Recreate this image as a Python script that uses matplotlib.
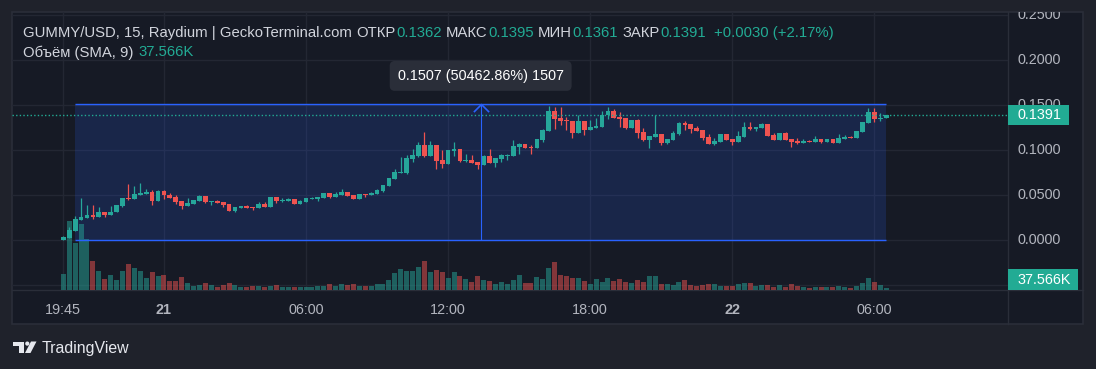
import matplotlib
matplotlib.use("Agg")
import matplotlib.pyplot as plt
import matplotlib.transforms as mtrans
from matplotlib.patches import Rectangle, Polygon, Circle
import numpy as np

# ---------------- data ----------------
opens = [0.0004, 0.0026, 0.0107, 0.0230, 0.0252, 0.0280, 0.0260, 0.0310, 0.0280, 0.0310,
         0.0380, 0.0470, 0.0460, 0.0504, 0.0510, 0.0537, 0.0440, 0.0548, 0.0504, 0.0480,
         0.0437, 0.0380, 0.0404, 0.0437, 0.0490, 0.0430, 0.0437, 0.0426, 0.0400, 0.0326,
         0.0360, 0.0380, 0.0370, 0.0360, 0.0404, 0.0370, 0.0480, 0.0437, 0.0437, 0.0460,
         0.0400, 0.0426, 0.0460, 0.0460, 0.0470, 0.0526, 0.0481, 0.0504, 0.0537, 0.0500,
         0.0460, 0.0515, 0.0504, 0.0515, 0.0548, 0.0604, 0.0680, 0.0748, 0.0748, 0.0904,
         0.0937, 0.1060, 0.0937, 0.1060, 0.0890, 0.0848, 0.0990, 0.1015, 0.0880, 0.0890,
         0.0870, 0.0837, 0.0937, 0.0860, 0.0900, 0.0937, 0.0937, 0.1037, 0.1070, 0.1037,
         0.1026, 0.1115, 0.1215, 0.1437, 0.1360, 0.1337, 0.1326, 0.1190, 0.1326, 0.1226,
         0.1248, 0.1260, 0.1390, 0.1437, 0.1370, 0.1360, 0.1248, 0.1337, 0.1200, 0.1115,
         0.1148, 0.1180, 0.1080, 0.1115, 0.1180, 0.1304, 0.1290, 0.1248, 0.1226, 0.1148,
         0.1070, 0.1093, 0.1180, 0.1126, 0.1093, 0.1148, 0.1260, 0.1237, 0.1248, 0.1290,
         0.1170, 0.1115, 0.1190, 0.1126, 0.1100, 0.1080, 0.1100, 0.1093, 0.1126, 0.1093,
         0.1126, 0.1080, 0.1126, 0.1148, 0.1137, 0.1204, 0.1304, 0.1426, 0.1348, 0.1362]
highs = [0.0048, 0.0148, 0.0270, 0.0470, 0.0390, 0.0390, 0.0370, 0.0310, 0.0380, 0.0390,
         0.0470, 0.0626, 0.0600, 0.0637, 0.0570, 0.0560, 0.0555, 0.0560, 0.0522, 0.0500,
         0.0437, 0.0470, 0.0448, 0.0500, 0.0490, 0.0437, 0.0452, 0.0426, 0.0400, 0.0370,
         0.0380, 0.0392, 0.0370, 0.0426, 0.0426, 0.0480, 0.0480, 0.0470, 0.0470, 0.0460,
         0.0448, 0.0470, 0.0481, 0.0481, 0.0526, 0.0526, 0.0537, 0.0570, 0.0537, 0.0500,
         0.0515, 0.0515, 0.0537, 0.0570, 0.0615, 0.0690, 0.0790, 0.0926, 0.0948, 0.1015,
         0.1090, 0.1200, 0.1100, 0.1060, 0.1000, 0.1005, 0.1090, 0.1015, 0.0960, 0.0948,
         0.0870, 0.0948, 0.1015, 0.0915, 0.0960, 0.0960, 0.1115, 0.1081, 0.1070, 0.1060,
         0.1126, 0.1237, 0.1490, 0.1480, 0.1480, 0.1370, 0.1326, 0.1390, 0.1326, 0.1337,
         0.1360, 0.1437, 0.1480, 0.1460, 0.1426, 0.1360, 0.1337, 0.1348, 0.1248, 0.1160,
         0.1393, 0.1180, 0.1126, 0.1215, 0.1315, 0.1326, 0.1290, 0.1270, 0.1226, 0.1180,
         0.1137, 0.1180, 0.1180, 0.1126, 0.1215, 0.1315, 0.1315, 0.1260, 0.1300, 0.1290,
         0.1190, 0.1190, 0.1200, 0.1126, 0.1137, 0.1126, 0.1110, 0.1160, 0.1126, 0.1126,
         0.1126, 0.1180, 0.1170, 0.1159, 0.1215, 0.1315, 0.1470, 0.1470, 0.1415, 0.1395]
lows = [0.0000, 0.0026, 0.0107, 0.0230, 0.0252, 0.0240, 0.0260, 0.0260, 0.0280, 0.0310,
        0.0374, 0.0450, 0.0460, 0.0504, 0.0510, 0.0396, 0.0440, 0.0460, 0.0474, 0.0400,
        0.0348, 0.0380, 0.0404, 0.0437, 0.0415, 0.0396, 0.0415, 0.0374, 0.0326, 0.0319,
        0.0360, 0.0360, 0.0337, 0.0360, 0.0370, 0.0370, 0.0415, 0.0426, 0.0437, 0.0400,
        0.0400, 0.0426, 0.0460, 0.0437, 0.0470, 0.0470, 0.0481, 0.0504, 0.0490, 0.0460,
        0.0460, 0.0480, 0.0504, 0.0515, 0.0537, 0.0604, 0.0680, 0.0748, 0.0737, 0.0870,
        0.0926, 0.0926, 0.0937, 0.0790, 0.0800, 0.0848, 0.0937, 0.0870, 0.0870, 0.0860,
        0.0790, 0.0837, 0.0860, 0.0815, 0.0870, 0.0893, 0.0937, 0.0960, 0.1026, 0.0960,
        0.1026, 0.1090, 0.1215, 0.1237, 0.1280, 0.1226, 0.1137, 0.1190, 0.1170, 0.1226,
        0.1248, 0.1260, 0.1350, 0.1360, 0.1260, 0.1237, 0.1248, 0.1137, 0.1100, 0.1026,
        0.1148, 0.1060, 0.1070, 0.1115, 0.1170, 0.1226, 0.1190, 0.1215, 0.1115, 0.1070,
        0.1060, 0.1093, 0.1115, 0.1060, 0.1093, 0.1148, 0.1226, 0.1215, 0.1248, 0.1160,
        0.1115, 0.1115, 0.1115, 0.1037, 0.1070, 0.1080, 0.1093, 0.1093, 0.1080, 0.1093,
        0.1080, 0.1080, 0.1126, 0.1137, 0.1137, 0.1204, 0.1304, 0.1315, 0.1326, 0.1361]
closes = [0.0040, 0.0115, 0.0237, 0.0260, 0.0280, 0.0260, 0.0310, 0.0285, 0.0315, 0.0390,
          0.0470, 0.0460, 0.0515, 0.0526, 0.0537, 0.0440, 0.0548, 0.0504, 0.0474, 0.0430,
          0.0380, 0.0415, 0.0448, 0.0490, 0.0426, 0.0437, 0.0415, 0.0390, 0.0326, 0.0370,
          0.0380, 0.0360, 0.0363, 0.0400, 0.0370, 0.0480, 0.0437, 0.0445, 0.0460, 0.0400,
          0.0437, 0.0470, 0.0470, 0.0481, 0.0526, 0.0481, 0.0515, 0.0537, 0.0490, 0.0460,
          0.0515, 0.0504, 0.0526, 0.0560, 0.0615, 0.0690, 0.0760, 0.0760, 0.0915, 0.0948,
          0.1060, 0.0937, 0.1060, 0.0880, 0.0848, 0.1000, 0.1015, 0.0880, 0.0890, 0.0860,
          0.0837, 0.0937, 0.0860, 0.0915, 0.0948, 0.0948, 0.1050, 0.1070, 0.1026, 0.1026,
          0.1126, 0.1226, 0.1437, 0.1348, 0.1326, 0.1326, 0.1190, 0.1326, 0.1226, 0.1260,
          0.1270, 0.1390, 0.1437, 0.1360, 0.1350, 0.1248, 0.1337, 0.1190, 0.1115, 0.1160,
          0.1180, 0.1080, 0.1126, 0.1190, 0.1304, 0.1280, 0.1237, 0.1215, 0.1137, 0.1070,
          0.1100, 0.1180, 0.1115, 0.1093, 0.1160, 0.1260, 0.1237, 0.1260, 0.1290, 0.1160,
          0.1115, 0.1190, 0.1115, 0.1093, 0.1080, 0.1100, 0.1093, 0.1126, 0.1093, 0.1126,
          0.1080, 0.1137, 0.1148, 0.1137, 0.1215, 0.1315, 0.1426, 0.1348, 0.1362, 0.1391]
volumes_k = [115, 497, 338, 475, 367, 209, 137, 79, 108, 72,
             137, 187, 158, 137, 86, 130, 101, 108, 65, 65,
             94, 50, 29, 36, 50, 36, 22, 36, 50, 36,
             22, 22, 29, 29, 22, 29, 36, 22, 22, 22,
             22, 22, 22, 29, 29, 43, 29, 43, 36, 43,
             29, 29, 29, 43, 43, 72, 122, 151, 137, 137,
             166, 209, 130, 144, 130, 86, 130, 101, 79, 58,
             101, 72, 65, 43, 58, 43, 72, 108, 50, 50,
             94, 79, 158, 202, 108, 101, 86, 86, 65, 43,
             79, 58, 86, 65, 79, 58, 50, 72, 58, 101,
             101, 43, 43, 36, 58, 72, 36, 29, 36, 43,
             43, 29, 29, 29, 43, 50, 50, 29, 36, 36,
             22, 36, 22, 43, 29, 22, 14, 22, 22, 22,
             22, 29, 22, 14, 29, 50, 86, 58, 36, 14]

time_tick_idx = [0, 17, 41, 65, 89, 113, 137]
time_tick_labels = ["19:45", "21", "06:00", "12:00", "18:00", "22", "06:00"]
bold_tick_labels = ["21", "22"]
price_ticks = [0.0, 0.05, 0.10, 0.15, 0.20, 0.25]
grid_prices = [-0.05, 0.0, 0.05, 0.10, 0.15, 0.20, 0.25]

range_start_idx, range_end_idx = 2, 139
range_low, range_high = 0.0003, 0.1510
range_label = "0.1507 (50462.86%) 1507"
last_price = 0.1391
last_price_label = "0.1391"
volume_sma_label = "37.566K"

header_title = "GUMMY/USD, 15, Raydium | GeckoTerminal.com"
header_names = ["ОТКР", "МАКС", "МИН", "ЗАКР"]
header_values = ["0.1362", "0.1395", "0.1361", "0.1391"]
header_values_x = [396.4, 488, 572.6, 660.7]
header_change = "+0.0030 (+2.17%)"
header_line2 = [("Объём (SMA, 9)", "g"), ("37.566K", "t")]
header_line2_x = [22.8, 138.6]

# ---------------- style ----------------
OUTER = "#1f222b"
PANE = "#161a25"
BORDER = "#2a2e39"
GRID = "#232733"
UP = "#26a69a"
DN = "#ef5350"
TEAL = "#22ab94"
BLUE = "#2962ff"
TXT = "#d1d4dc"
AXT = "#b2b5be"
FONT = "Liberation Sans"
plt.rcParams["font.family"] = [FONT, "DejaVu Sans"]

W, H = 1096, 369
fig = plt.figure(figsize=(W / 100, H / 100), dpi=100)
fig.patch.set_facecolor(OUTER)


def px_rect(x0, y0, x1, y1):
    return [x0 / W, 1 - y1 / H, (x1 - x0) / W, (y1 - y0) / H]


# background / frame (pixel coords)
ax_bg = fig.add_axes([0, 0, 1, 1], zorder=0)
ax_bg.set_xlim(0, W)
ax_bg.set_ylim(H, 0)
ax_bg.set_axis_off()
ax_bg.add_patch(Rectangle((12, 12), 1071, 312, fc=PANE, ec=BORDER, lw=1.2))
ax_bg.plot([1008, 1008], [12, 324], color=BORDER, lw=1)
ax_bg.plot([12, 1083], [290, 290], color=BORDER, lw=1)

# panes
pane = px_rect(12, 12, 1008, 290)
ax_vol = fig.add_axes(pane, zorder=1)
ax_price = fig.add_axes(pane, zorder=2, sharex=ax_vol)
for a in (ax_vol, ax_price):
    a.patch.set_visible(False)
    for s in a.spines.values():
        s.set_visible(False)

xl = ((12 - 63.3) / 5.92, (1008 - 63.3) / 5.92)
ax_price.set_xlim(*xl)
ax_price.set_ylim((240.3 - 290) / 900, (240.3 - 12) / 900)
ax_vol.set_ylim(0, 278 * 7.19)
ax_vol.set_yticks([])
ax_price.set_yticks([])

# grid (under volume)
blend = mtrans.blended_transform_factory(ax_vol.transAxes, ax_price.transData)
for gp in grid_prices:
    ax_vol.plot([0, 1], [gp, gp], transform=blend, color=GRID, lw=1, zorder=0)
for ti in time_tick_idx:
    ax_vol.axvline(ti, color=GRID, lw=1, zorder=0)

# price range fill
ax_vol.add_patch(Rectangle((range_start_idx, range_low), range_end_idx - range_start_idx,
                           range_high - range_low, transform=ax_price.transData,
                           fc=BLUE, alpha=0.17, ec="none", zorder=1))

o = np.array(opens); h = np.array(highs); l = np.array(lows); c = np.array(closes)
v = np.array(volumes_k)
idx = np.arange(len(o))
up = c >= o
cols = np.where(up, UP, DN)
vcols = [(0.149, 0.651, 0.604, 0.5) if u else (0.937, 0.325, 0.314, 0.5) for u in up]

ax_vol.bar(idx, v, width=0.85, color=vcols, lw=0, zorder=2)

# candles
ax_price.vlines(idx, l, h, colors=cols, lw=0.9, zorder=3)
ax_price.bar(idx, np.maximum(np.abs(c - o), 0.0012), bottom=np.minimum(o, c), width=0.8,
             color=cols, lw=0, zorder=4)

# range tool lines
ax_price.hlines([range_low, range_high], range_start_idx, range_end_idx, color=BLUE, lw=1.0, zorder=5)
mid = (range_start_idx + range_end_idx) / 2
ax_price.vlines(mid, range_low, range_high, color=BLUE, lw=0.8, zorder=5)
ax_price.plot([mid], [range_high], marker=[(-1, -1), (0, 0), (1, -1)], ms=11,
              mfc="none", mec=BLUE, mew=1.2, zorder=6)
ax_price.annotate(range_label, xy=(mid, range_high), xytext=(0, 28.5),
                  textcoords="offset pixels", ha="center", va="center",
                  color="white", fontsize=10.4, zorder=7,
                  bbox=dict(boxstyle="round,pad=0.55,rounding_size=0.35", fc="#2a2e39", ec="none"))

# last price dotted line
ax_price.axhline(last_price, color=TEAL, lw=1.0, ls=(0, (1, 1.6)), zorder=5)

# time axis labels
ax_price.set_xticks(time_tick_idx)
ax_price.set_xticklabels(time_tick_labels)
ax_price.tick_params(axis="x", length=0, pad=9.0, labelsize=10.4, labelcolor=AXT)
for lab in ax_price.get_xticklabels():
    if lab.get_text() in bold_tick_labels:
        lab.set_fontweight("bold")
ax_vol.tick_params(axis="x", length=0, labelbottom=False)

# price axis
ax_axis = fig.add_axes(px_rect(1008, 12, 1083, 290), zorder=3, sharey=ax_price)
ax_axis.set_axis_off()
ax_axis.set_xlim(0, 1)
tb = mtrans.blended_transform_factory(ax_axis.transAxes, ax_axis.transData)
for p in price_ticks:
    ax_axis.text(10 / 75, p, f"{p:.4f}", transform=tb, ha="left", va="center",
                 color=AXT, fontsize=10.4, clip_on=True)
ylo, yhi = ax_price.get_ylim()
bh = (yhi - ylo) * 20 / 278
ax_axis.add_patch(Rectangle((0, last_price - bh / 2), 61 / 75, bh, transform=tb,
                            fc=TEAL, ec="none", zorder=5))
ax_axis.text(10 / 75, last_price, last_price_label, transform=tb, ha="left", va="center",
             color="white", fontsize=10.4, zorder=6)
ax_axis.add_patch(Rectangle((0, 0), 70 / 75, 21 / 278, transform=ax_axis.transAxes,
                            fc=TEAL, ec="none", zorder=5))
ax_axis.text(10 / 75, 10.5 / 278, volume_sma_label, transform=ax_axis.transAxes,
             ha="left", va="center", color="white", fontsize=10.4, zorder=6)

# foreground: header + logo
ax_fg = fig.add_axes([0, 0, 1, 1], zorder=10)
ax_fg.set_xlim(0, W)
ax_fg.set_ylim(H, 0)
ax_fg.set_axis_off()
ax_fg.patch.set_visible(False)
HFS = 10.7
ax_fg.text(22.8, 37.3, header_title, color=TXT, fontsize=HFS, va="baseline")
for name, val, x in zip(header_names, header_values, header_values_x):
    ax_fg.text(x - 0.5, 37.3, name, color=TXT, fontsize=HFS, va="baseline", ha="right")
    ax_fg.text(x, 37.3, val, color=TEAL, fontsize=HFS, va="baseline")
ax_fg.text(714.4, 37.3, header_change, color=TEAL, fontsize=HFS, va="baseline")
for (txt, k), x in zip(header_line2, header_line2_x):
    ax_fg.text(x, 56.5, txt, color=TEAL if k == "t" else TXT, fontsize=HFS, va="baseline")

LOGO = "#e6e8ee"
ax_fg.add_patch(Polygon([(13, 341.5), (24, 341.5), (24, 353), (19, 353), (19, 345.5), (13, 345.5)],
                        closed=True, fc=LOGO, ec="none"))
ax_fg.add_patch(Circle((27.3, 343.6), 2.1, fc=LOGO, ec="none"))
ax_fg.add_patch(Polygon([(31, 341.5), (36.5, 341.5), (30.5, 353), (25, 353)],
                        closed=True, fc=LOGO, ec="none"))
ax_fg.text(41.5, 352.5, "TradingView", color=LOGO, fontsize=11.4, va="baseline")

fig.savefig("out.png", dpi=100, facecolor=fig.get_facecolor())
